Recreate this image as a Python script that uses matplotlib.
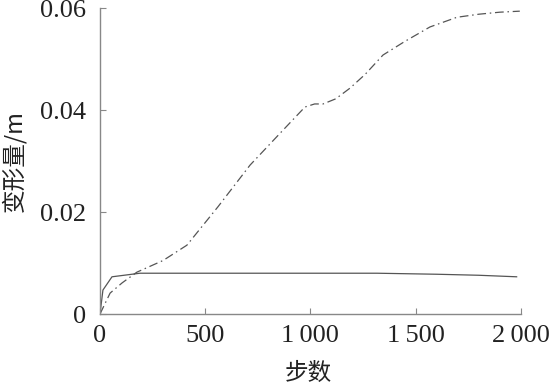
import matplotlib
matplotlib.use("Agg")
import matplotlib.pyplot as plt
from matplotlib.ticker import FuncFormatter

# step counts and deformation (m)
steps_solid = [0, 14, 57, 190, 600, 1000, 1316, 1600, 1800, 1980]
defo_solid = [0.0, 0.0047, 0.0073, 0.0080, 0.0080, 0.0080, 0.0080, 0.0078, 0.0076, 0.0073]

steps_dash = [0, 48, 105, 175, 300, 413, 560, 713, 850, 974, 1020, 1060, 1120, 1188, 1260,
              1345, 1450, 1568, 1696, 1800, 1900, 1995]
defo_dash = [0.0, 0.0041, 0.0061, 0.0082, 0.0105, 0.0135, 0.0210, 0.0292, 0.0352, 0.0406, 0.0412,
             0.0412, 0.0422, 0.0443, 0.0470, 0.0508, 0.0535, 0.0563, 0.0582, 0.0588, 0.0592, 0.0594]

xticks = [0, 500, 1000, 1500, 2000]
yticks = [0, 0.02, 0.04, 0.06]

serif = ['Liberation Serif', 'DejaVu Serif']
cjk = ['Noto Sans CJK SC', 'DejaVu Sans']

fig = plt.figure(figsize=(5.5, 3.86), dpi=100)
ax = fig.add_axes([0.1818, 0.1865, 0.947 - 0.1818, 0.979 - 0.1865])

ax.plot(steps_solid, defo_solid, color='#555555', lw=0.9)
ax.plot(steps_dash, defo_dash, color='#555555', lw=0.9, dashes=(7, 3, 1.2, 3))

ax.set_xlim(0, 2000)
ax.set_ylim(0, 0.06)
ax.set_xticks(xticks)
ax.set_yticks(yticks)

def fmt_x(v, pos):
    s = '%d' % v
    if len(s) > 3:
        s = s[:-3] + '\u2009' + s[-3:]
    return s

def fmt_y(v, pos):
    return '0' if v == 0 else '%.2f' % v

ax.xaxis.set_major_formatter(FuncFormatter(fmt_x))
ax.yaxis.set_major_formatter(FuncFormatter(fmt_y))

for s in ['top', 'right']:
    ax.spines[s].set_visible(False)
for s in ['left', 'bottom']:
    ax.spines[s].set_color('#888888')
    ax.spines[s].set_linewidth(1.0)
ax.tick_params(direction='in', length=4, color='#888888', labelsize=19)
ax.tick_params(axis='x', pad=8)
ax.tick_params(axis='y', pad=10)
for lab in ax.get_xticklabels() + ax.get_yticklabels():
    lab.set_family(serif)
    lab.set_color('#222222')

ax.set_xlabel('步数', family=cjk, fontsize=17, color='#222222')
ax.set_ylabel('变形量/m', family=cjk, fontsize=17, color='#222222')
ax.xaxis.set_label_coords(0.496, -0.155)
ax.yaxis.set_label_coords(-0.176, 0.5)

fig.savefig('out.png', dpi=100)
